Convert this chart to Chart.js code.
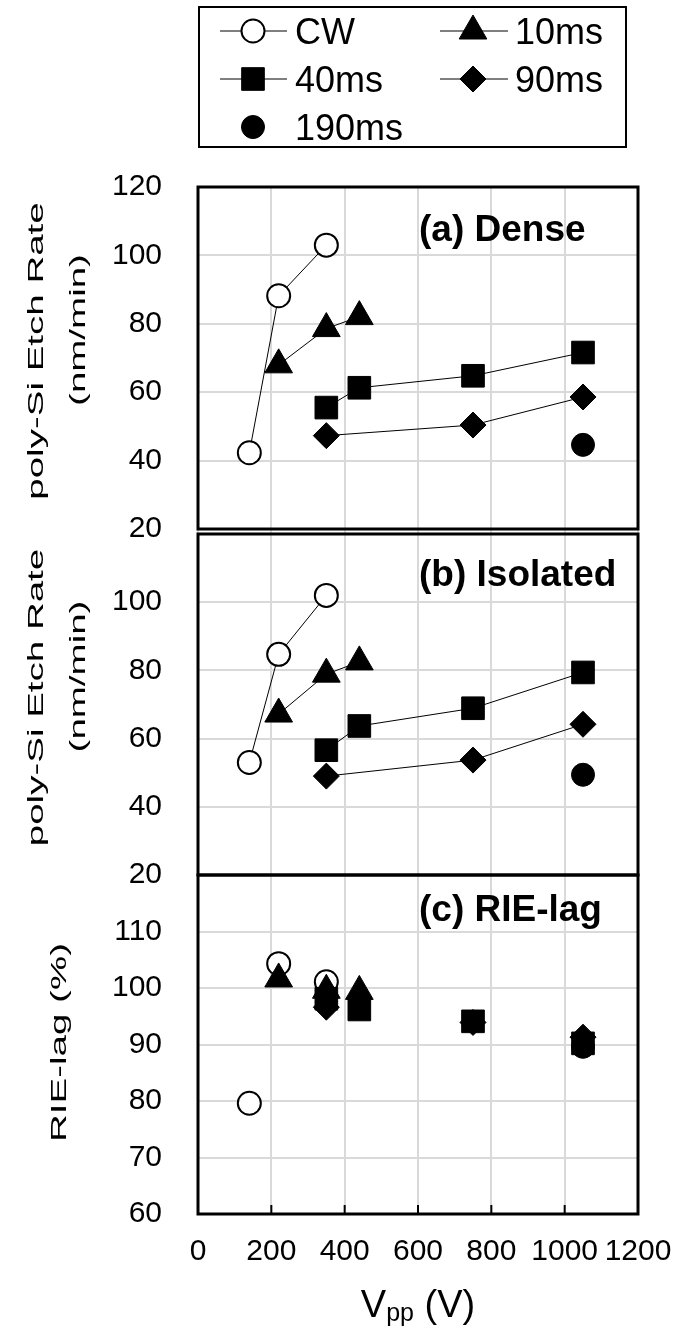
<!DOCTYPE html>
<html lang="en">
<head>
    <meta charset="UTF-8">
    <title>poly-Si Etch Rate vs Vpp</title>
    <style>
        body, html {
            margin: 0;
            padding: 0;
            background: #ffffff;
        }

        #wrap {
            position: relative;
            width: 676px;
            height: 1332px;
        }
    </style>
</head>
<body>
    <div id="wrap">
        <canvas id="chart" width="676" height="1332"></canvas>
    </div>

    <script src="https://cdn.jsdelivr.net/npm/chart.js"></script>
    <script>
        // series (pulse conditions)
        const seriesNames = ['CW', '10ms', '40ms', '90ms', '190ms'];

        // Vpp (V) where each condition was measured
        const vppCW = [140, 220, 350];
        const vpp10ms = [220, 350, 440];
        const vpp40ms = [350, 440, 750, 1050];
        const vpp90ms = [350, 750, 1050];
        const vpp190ms = [1050];

        // (a) dense pattern etch rate, nm/min
        const denseCW = [42.3, 88.2, 103.0];
        const dense10ms = [68.0, 78.6, 82.1];
        const dense40ms = [55.5, 61.3, 64.8, 71.6];
        const dense90ms = [47.3, 50.4, 58.6];
        const dense190ms = [44.6];

        // (b) isolated pattern etch rate, nm/min
        const isoCW = [53.0, 84.7, 102.0];
        const iso10ms = [67.2, 78.9, 82.5];
        const iso40ms = [56.6, 63.7, 68.9, 79.4];
        const iso90ms = [49.0, 53.7, 64.2];
        const iso190ms = [49.4];

        // (c) RIE-lag, %
        const lagCW = [79.6, 104.3, 101.1];
        const lag10ms = [101.6, 99.6, 99.4];
        const lag40ms = [98.1, 96.2, 94.1, 90.2];
        const lag90ms = [96.6, 93.9, 91.3];
        const lag190ms = [89.6];

        const panelLabels = ['(a) Dense', '(b) Isolated', '(c) RIE-lag'];
        const yTitles = [['poly-Si Etch Rate', '(nm/min)'], ['poly-Si Etch Rate', '(nm/min)'], ['RIE-lag (%)']];

        const fontFamily = '"Liberation Sans", Arial, sans-serif';
        const gridColor = '#d9d9d9';

        // marker looks, same order as seriesNames
        const marks = [
            { style: 'circle', r: 11.5, fill: '#ffffff', bw: 2 },
            { style: 'triangle', r: 16, fill: '#000000', bw: 1 },
            { style: 'rect', r: 16, fill: '#000000', bw: 1 },
            { style: 'rectRot', r: 13, fill: '#000000', bw: 1 },
            { style: 'circle', r: 11.5, fill: '#000000', bw: 1 }
        ];

        const vpps = [vppCW, vpp10ms, vpp40ms, vpp90ms, vpp190ms];

        function makeSets(yID, values, withLine) {
            return seriesNames.map((name, i) => ({
                label: name,
                yAxisID: yID,
                data: vpps[i].map((x, k) => ({ x: x, y: values[i][k] })),
                showLine: withLine,
                borderColor: '#000',
                borderWidth: 1,
                pointStyle: marks[i].style,
                pointRadius: marks[i].r,
                pointHoverRadius: marks[i].r,
                pointBackgroundColor: marks[i].fill,
                pointBorderColor: '#000',
                pointBorderWidth: marks[i].bw,
                order: 10 - i
            }));
        }

        const datasets = [].concat(
            makeSets('ya', [denseCW, dense10ms, dense40ms, dense90ms, dense190ms], true),
            makeSets('yb', [isoCW, iso10ms, iso40ms, iso90ms, iso190ms], true),
            makeSets('yc', [lagCW, lag10ms, lag40ms, lag90ms, lag190ms], false)
        );

        function fixY(s) {
            s.width = 198;
            s.paddingTop = 0;
            s.paddingBottom = 0;
        }

        function yScale(min, max, step, weight, hideTop) {
            return {
                type: 'linear',
                position: 'left',
                stack: 'panels',
                stackWeight: weight,
                min: min,
                max: max,
                border: { display: false },
                grid: { color: gridColor, lineWidth: 2, drawTicks: false },
                ticks: {
                    stepSize: step,
                    autoSkip: false,
                    padding: 36,
                    color: '#000',
                    font: { family: fontFamily, size: 30 },
                    callback: v => (hideTop && v === max) ? '' : String(v)
                },
                afterFit: fixY
            };
        }

        // frames round each panel + inside ticks on the bottom axis
        const framePlugin = {
            id: 'frames',
            beforeDatasetsDraw(chart) {
                const ctx = chart.ctx;
                const area = chart.chartArea;
                ctx.save();
                ctx.strokeStyle = '#000';
                ctx.lineWidth = 3;
                ['ya', 'yb', 'yc'].forEach(id => {
                    const s = chart.scales[id];
                    ctx.strokeRect(area.left, s.top, area.right - area.left, s.bottom - s.top);
                });
                const xs = chart.scales.x;
                ctx.lineWidth = 2;
                xs.ticks.forEach(t => {
                    const px = xs.getPixelForValue(t.value);
                    ctx.beginPath();
                    ctx.moveTo(px, area.bottom);
                    ctx.lineTo(px, area.bottom - 9);
                    ctx.stroke();
                });
                ctx.restore();
            }
        };

        function drawMark(ctx, i, x, y) {
            ctx.fillStyle = marks[i].fill;
            ctx.strokeStyle = '#000';
            ctx.lineWidth = marks[i].bw;
            Chart.helpers.drawPoint(ctx, {
                pointStyle: marks[i].style,
                radius: marks[i].r,
                rotation: 0,
                borderWidth: marks[i].bw
            }, x, y);
        }

        const textPlugin = {
            id: 'texts',
            afterDraw(chart) {
                const ctx = chart.ctx;
                const area = chart.chartArea;
                ctx.save();
                ctx.fillStyle = '#000';

                // panel tags
                ctx.font = 'bold 37px ' + fontFamily;
                ctx.textAlign = 'left';
                ctx.textBaseline = 'alphabetic';
                const tagOffset = [54, 52, 46];
                ['ya', 'yb', 'yc'].forEach((id, i) => {
                    ctx.fillText(panelLabels[i], 419, chart.scales[id].top + tagOffset[i]);
                });

                // y titles (text is drawn stretched along its length, like the source)
                const titleX = [[37, 79], [37, 79], [60]];
                const titleDy = [[-7, -28], [-7, -28], [-2]];
                ctx.font = '22px ' + fontFamily;
                ctx.textAlign = 'center';
                ctx.textBaseline = 'middle';
                ['ya', 'yb', 'yc'].forEach((id, i) => {
                    const s = chart.scales[id];
                    const cy = (s.top + s.bottom) / 2;
                    yTitles[i].forEach((line, k) => {
                        ctx.save();
                        ctx.translate(titleX[i][k], cy + titleDy[i][k]);
                        ctx.rotate(-Math.PI / 2);
                        ctx.scale(1.75, 1);
                        ctx.fillText(line, 0, 0);
                        ctx.restore();
                    });
                });

                // x title: V with subscript pp
                ctx.textAlign = 'left';
                ctx.textBaseline = 'alphabetic';
                const big = '38px ' + fontFamily;
                const small = '25px ' + fontFamily;
                ctx.font = big;
                const wV = ctx.measureText('V').width;
                const wRest = ctx.measureText(' (V)').width;
                ctx.font = small;
                const wSub = ctx.measureText('pp').width;
                let x0 = (area.left + area.right) / 2 - (wV + wSub + wRest) / 2;
                ctx.font = big;
                ctx.fillText('V', x0, 1317);
                ctx.font = small;
                ctx.fillText('pp', x0 + wV, 1321);
                ctx.font = big;
                ctx.fillText(' (V)', x0 + wV + wSub, 1317);

                // legend box
                ctx.strokeStyle = '#000';
                ctx.lineWidth = 2;
                ctx.strokeRect(199, 7, 427, 140);
                const cols = [{ l0: 220, l1: 287, m: 253, t: 295 }, { l0: 440, l1: 508, m: 473, t: 515 }];
                const rows = [31, 79, 127];
                ctx.font = '36px ' + fontFamily;
                seriesNames.forEach((name, i) => {
                    const c = cols[i % 2];
                    const y = rows[Math.floor(i / 2)];
                    if (i < 4) {
                        ctx.strokeStyle = '#000';
                        ctx.lineWidth = 1;
                        ctx.beginPath();
                        ctx.moveTo(c.l0, y);
                        ctx.lineTo(c.l1, y);
                        ctx.stroke();
                    }
                    drawMark(ctx, i, c.m, y);
                    ctx.fillStyle = '#000';
                    ctx.fillText(name, c.t, y + 13);
                });
                ctx.restore();
            }
        };

        new Chart(document.getElementById('chart'), {
            type: 'scatter',
            data: { datasets: datasets },
            options: {
                responsive: false,
                animation: false,
                events: [],
                layout: { padding: { top: 187, right: 38, bottom: 0, left: 0 } },
                plugins: {
                    legend: { display: false },
                    tooltip: { enabled: false }
                },
                scales: {
                    x: {
                        type: 'linear',
                        position: 'bottom',
                        min: 0,
                        max: 1200,
                        border: { display: false },
                        grid: { color: gridColor, lineWidth: 2, drawTicks: false },
                        ticks: {
                            stepSize: 200,
                            autoSkip: false,
                            padding: 20,
                            maxRotation: 0,
                            color: '#000',
                            font: { family: fontFamily, size: 30 },
                            callback: v => String(v)
                        },
                        afterFit: s => { s.height = 118; s.paddingLeft = 0; s.paddingRight = 0; }
                    },
                    // left axes are stacked in reverse order of definition (last = top)
                    yc: yScale(60, 120, 10, 339, true),
                    yb: yScale(20, 120, 20, 341, true),
                    yg: {
                        type: 'linear',
                        position: 'left',
                        stack: 'panels',
                        stackWeight: 5,
                        border: { display: false },
                        grid: { display: false },
                        ticks: { display: false },
                        afterFit: fixY
                    },
                    ya: yScale(20, 120, 20, 342, false)
                }
            },
            plugins: [framePlugin, textPlugin]
        });
    </script>
</body>
</html>
